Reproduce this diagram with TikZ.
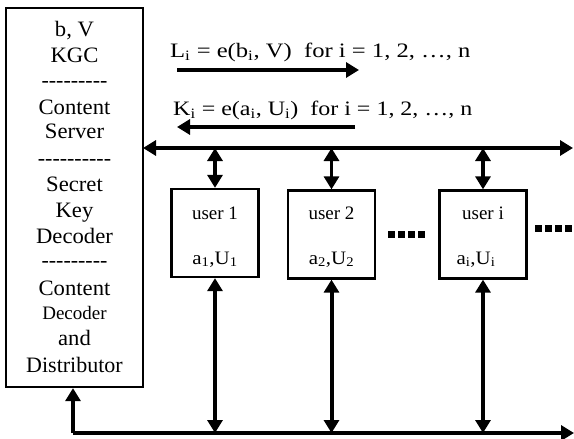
\documentclass[tikz,border=0pt]{standalone}
\usepackage{fontspec}
\setmainfont{Liberation Serif}
\usetikzlibrary{arrows.meta,calc}
\newcommand{\wide}[2]{\scalebox{#1}[1]{#2}}
\begin{document}
\begin{tikzpicture}[x=1pt,y=-1pt,
  conn/.style={line width=3.2pt,-{Triangle[length=13pt,width=15pt]}},
  dconn/.style={line width=3.2pt,{Triangle[length=13pt,width=15pt]}-{Triangle[length=13pt,width=15pt]}},
  box/.style={draw,line width=2.3pt,minimum width=87pt,minimum height=88pt,inner sep=0pt},
  stxt/.style={font=\fontsize{22}{24}\selectfont,inner sep=0pt,anchor=base},
  utxt/.style={font=\fontsize{19}{21}\selectfont,inner sep=0pt,anchor=base},
  ltxt/.style={font=\fontsize{20.5}{22}\selectfont,inner sep=0pt,anchor=base west},
  dots/.style={line width=7pt,dash pattern=on 7pt off 3pt}
]
\useasboundingbox (0,0) rectangle (574,439);
% server box
\node[draw,line width=2.3pt,minimum width=137pt,minimum height=379pt,inner sep=0pt] (srv) at (74.5,197.5) {};
\node[stxt] (t1) at (74.5,37) {\wide{1.03}{b,\ V}};
\node[stxt] (t2) at (74.5,62) {\wide{1.03}{KGC}};
\node[stxt] (t3) at (74.5,87) {{-}{-}{-}{-}{-}{-}{-}{-}{-}};
\node[stxt] (t4) at (74.5,114) {\wide{1.03}{Content}};
\node[stxt] (t5) at (74.5,138) {\wide{1.03}{Server}};
\node[stxt] (t6) at (74.5,165) {{-}{-}{-}{-}{-}{-}{-}{-}{-}{-}};
\node[stxt] (t7) at (74.5,191) {\wide{1.03}{Secret}};
\node[stxt] (t8) at (74.5,217) {\wide{1.03}{Key}};
\node[stxt] (t9) at (74.5,243) {\wide{1.03}{Decoder}};
\node[stxt] (t10) at (74.5,267) {{-}{-}{-}{-}{-}{-}{-}{-}{-}};
\node[stxt] (t11) at (74.5,295) {\wide{1.03}{Content}};
\node[utxt] (t12) at (74.5,319) {Decoder};
\node[stxt] (t13) at (74.5,345) {\wide{1.03}{and}};
\node[stxt] (t14) at (74.5,372) {\wide{1.0}{Distributor}};
% formula texts and arrows
\node[ltxt] (lt) at (170,57) {\wide{1.2}{L\textsubscript{i} = e(b\textsubscript{i}, V)\ \ for i = 1, 2, …, n}};
\node[ltxt] (kt) at (173,115) {\wide{1.17}{K\textsubscript{i}\ =\ e(a\textsubscript{i}, U\textsubscript{i})\ \ for i = 1, 2, …, n}};
\coordinate (la) at (177,70);
\coordinate (lb) at (359,70);
\draw[conn] (la) -- (lb);
\coordinate (ka) at (355,127);
\coordinate (kb) at (177,127);
\draw[conn] (ka) -- (kb);
% user boxes
\node[box] (u1) at (215,233) {};
\node[box] (u2) at (331.5,234.5) {};
\node[box] (ui) at (483,234.5) {};
\node[utxt] (u1a) at (215,219) {user 1};
\node[utxt] (u1b) at (215,264) {\wide{1.1}{a\textsubscript{1},U\textsubscript{1}}};
\node[utxt] (u2a) at (331.5,219) {user 2};
\node[utxt] (u2b) at (331.5,264) {\wide{1.1}{a\textsubscript{2},U\textsubscript{2}}};
\node[utxt] (uia) at (483,219) {user i};
\node[utxt] (uib) at (476,264) {\wide{1.1}{a\textsubscript{i},U\textsubscript{i}}};
% top bus
\coordinate (busL) at (143,148);
\coordinate (busR) at (573,148);
\draw[dconn] (busL) -- (busR);
\coordinate (b1) at (u1.north |- busL);
\coordinate (b2) at (u2.north |- busL);
\coordinate (bi) at (ui.north |- busL);
\draw[dconn] (b1) -- (u1.north);
\draw[dconn] (b2) -- (u2.north);
\draw[dconn] (bi) -- (ui.north);
% bottom bus
\coordinate (botL) at (73,433);
\coordinate (botR) at (574,433);
\draw[conn] (botL) -- (botR);
\draw[conn] (botL) -- (botL |- srv.south);
\coordinate (c1) at (u1.south |- botL);
\coordinate (c2) at (u2.south |- botL);
\coordinate (ci) at (ui.south |- botL);
\draw[dconn] (u1.south) -- (c1);
\draw[dconn,line width=4pt] (u2.south) -- (c2);
\draw[dconn] (ui.south) -- (ci);
% dots
\coordinate (d1a) at (388,234);
\coordinate (d1b) at (428,234);
\draw[dots] (d1a) -- (d1b);
\coordinate (d2a) at (535,228);
\coordinate (d2b) at (575,228);
\draw[dots] (d2a) -- (d2b);
\end{tikzpicture}
\end{document}
